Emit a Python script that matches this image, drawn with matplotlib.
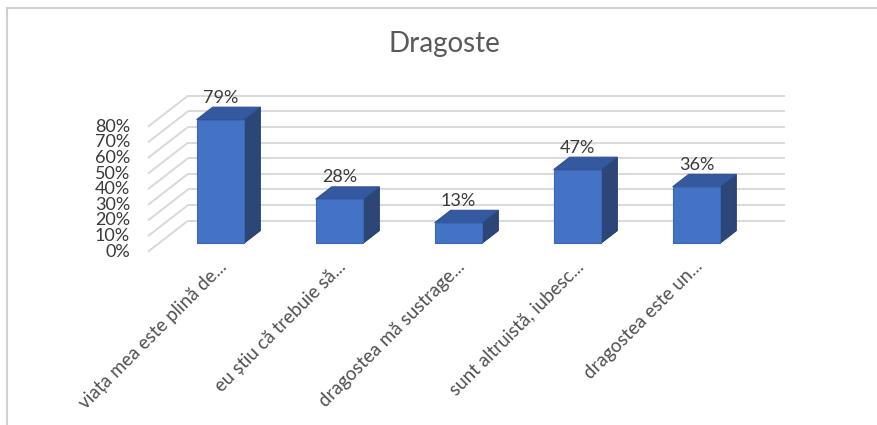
import matplotlib
matplotlib.use("Agg")
import matplotlib.pyplot as plt
from matplotlib.patches import Polygon
from matplotlib.lines import Line2D

# Chart data
title = "Dragoste"
categories = [
    "viața mea este plină de...",
    "eu știu că trebuie să...",
    "dragostea mă sustrage...",
    "sunt altruistă, iubesc...",
    "dragostea este un...",
]
values = [79, 28, 13, 47, 36]
tick_values = [0, 10, 20, 30, 40, 50, 60, 70, 80]
tick_labels = [f"{t}%" for t in tick_values]

plt.rcParams["font.family"] = ["Lato", "DejaVu Sans"]

W, H = 877, 425
fig = plt.figure(figsize=(W / 100, H / 100), dpi=100)
ax = fig.add_axes([0, 0, 1, 1])
ax.set_axis_off()

# Data scale: 119 px per category, 1.5625 px per percent point
px_per_cat = 119.0
px_per_pct = 1.5625
x0_px, y0_px = 209.3, 251.7
ax.set_xlim(-x0_px / px_per_cat, (W - x0_px) / px_per_cat)
ax.set_ylim(-(H - y0_px) / px_per_pct, y0_px / px_per_pct)

# Oblique depth vector (full depth of the plot box)
depth_dx = 40 / px_per_cat
depth_dy = 31 / px_per_pct
x_left, x_right = -0.515, 4.5

grid_color = "#d9d9d9"
text_color = "#3a3a3a"
label_color = "#505050"

# Back wall and left side wall gridlines
for t in tick_values:
    ax.plot([x_left + depth_dx, x_right + depth_dx], [t + depth_dy, t + depth_dy],
            color=grid_color, lw=1.4, zorder=1, solid_capstyle="butt")
    ax.plot([x_left, x_left + depth_dx], [t, t + depth_dy],
            color=grid_color, lw=1.4, zorder=1, solid_capstyle="butt")

# Y tick labels on the front edge
for t, lab in zip(tick_values, tick_labels):
    ax.text(x_left - 18 / px_per_cat, t, lab, ha="right", va="center",
            fontsize=13, color=text_color)

# 3D-looking bars
front_col = "#4472c4"
top_col = "#35599e"
side_col = "#2b4677"
half_w = 0.2
f0, f1 = 0.28, 0.68
for i, v in enumerate(values):
    bx = i + f0 * depth_dx
    by = f0 * depth_dy
    ddx = (f1 - f0) * depth_dx
    ddy = (f1 - f0) * depth_dy
    xl, xr = bx - half_w, bx + half_w
    front = Polygon([(xl, by), (xr, by), (xr, by + v), (xl, by + v)],
                    closed=True, fc=front_col, ec="#3d67b3", lw=0.8, zorder=3)
    top = Polygon([(xl, by + v), (xr, by + v), (xr + ddx, by + v + ddy), (xl + ddx, by + v + ddy)],
                  closed=True, fc=top_col, ec="#2f5192", lw=0.8, zorder=3)
    side = Polygon([(xr, by), (xr, by + v), (xr + ddx, by + v + ddy), (xr + ddx, by + ddy)],
                   closed=True, fc=side_col, ec="#26406e", lw=0.8, zorder=3)
    for p in (side, top, front):
        ax.add_patch(p)
    ax.text(bx, by + v + ddy + 9.5 / px_per_pct, f"{v}%", ha="center", va="center",
            fontsize=13, color=text_color, zorder=4)
    ax.text(bx + 3 / px_per_cat, -12 / px_per_pct, categories[i], rotation=45,
            rotation_mode="anchor", ha="right", va="center",
            fontsize=13.5, color=label_color)

ax.text(444 / px_per_cat - x0_px / px_per_cat, (y0_px - 44) / px_per_pct, title,
        ha="center", va="center", fontsize=20, color="#595959")

# Chart area outline (left and top edges)
fig.add_artist(Line2D([6.5 / W, 6.5 / W], [0, 1 - 8 / H], transform=fig.transFigure,
                      color="#d0d0d0", lw=1.5))
fig.add_artist(Line2D([6.5 / W, 1], [1 - 8 / H, 1 - 8 / H], transform=fig.transFigure,
                      color="#d0d0d0", lw=1.5))

fig.savefig("out.png", dpi=100)
